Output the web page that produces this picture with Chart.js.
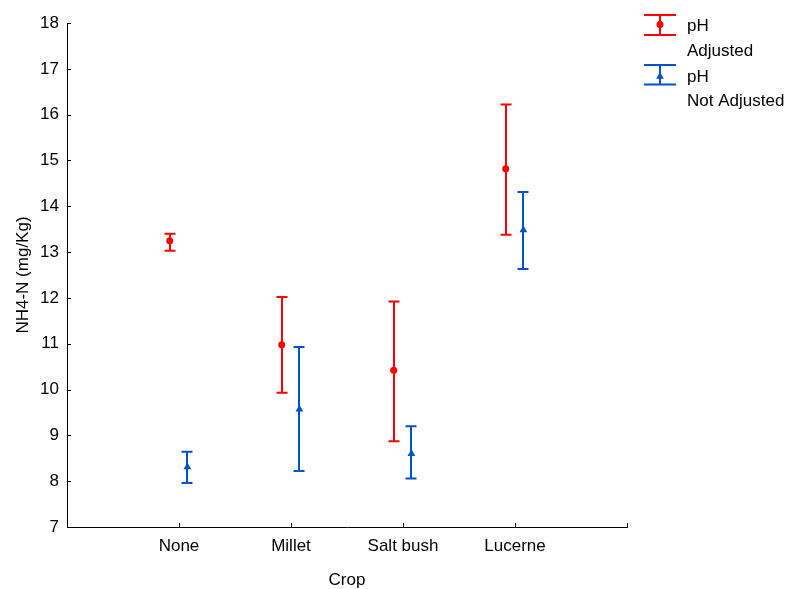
<!DOCTYPE html>
<html>
<head>
<meta charset="utf-8">
<script src="https://cdn.jsdelivr.net/npm/chart.js@4/dist/chart.umd.min.js"></script>
<style>
  html, body { margin: 0; padding: 0; background: #fff; }
  #wrap { width: 796px; height: 589px; }
</style>
</head>
<body>
<div id="wrap"><canvas id="c" width="796" height="589"></canvas></div>
<script>
// ---- data ----
const categories = ['None', 'Millet', 'Salt bush', 'Lucerne'];
const seriesNames = [['pH', 'Adjusted'], ['pH', 'Not Adjusted']];

const adjustedMean = [13.25, 10.98, 10.42, 14.82];
const adjustedLow  = [13.03,  9.93,  8.87, 13.38];
const adjustedHigh = [13.40, 12.02, 11.92, 16.22];

const notAdjustedMean = [8.31,  9.57, 8.60, 13.48];
const notAdjustedLow  = [7.96,  8.22, 8.06, 12.63];
const notAdjustedHigh = [8.64, 10.93, 9.20, 14.31];

const yTicks = [7, 8, 9, 10, 11, 12, 13, 14, 15, 16, 17, 18];

// ---- styling ----
const RED = '#ff0000';
const BLUE = '#0052c8';
const FONT = "'Liberation Sans', Arial, sans-serif";
const FS = 17;
const OFF_RED = -0.083, OFF_BLUE = 0.075;

function build(mean, low, high, off) {
  return categories.map((c, i) => ({ x: i + 1 + off, y: mean[i], lo: low[i], hi: high[i] }));
}

const errorBars = {
  id: 'errorBars',
  beforeDatasetsDraw(chart) {
    const ctx = chart.ctx, xs = chart.scales.x, ys = chart.scales.y;
    chart.data.datasets.forEach(ds => {
      ctx.save();
      ctx.strokeStyle = ds.backgroundColor;
      ctx.lineWidth = 2;
      ds.data.forEach(p => {
        const x = Math.round(xs.getPixelForValue(p.x));
        const y1 = ys.getPixelForValue(p.hi), y2 = ys.getPixelForValue(p.lo);
        ctx.beginPath();
        ctx.moveTo(x, y1); ctx.lineTo(x, y2);
        ctx.moveTo(x - 5.5, y1); ctx.lineTo(x + 5.5, y1);
        ctx.moveTo(x - 5.5, y2); ctx.lineTo(x + 5.5, y2);
        ctx.stroke();
      });
      ctx.restore();
    });
  }
};

const axisTicks = {
  id: 'axisTicks',
  afterDraw(chart) {
    const ctx = chart.ctx, xs = chart.scales.x, ys = chart.scales.y, a = chart.chartArea;
    ctx.save();
    ctx.strokeStyle = '#000';
    ctx.lineWidth = 1;
    ctx.beginPath();
    yTicks.forEach(v => {
      const y = Math.round(ys.getPixelForValue(v)) + 0.5;
      ctx.moveTo(a.left, y); ctx.lineTo(a.left + 4, y);
    });
    for (let v = 1; v <= categories.length + 1; v++) {
      const x = Math.round(xs.getPixelForValue(v)) + 0.5;
      ctx.moveTo(x, a.bottom); ctx.lineTo(x, a.bottom - 4);
    }
    ctx.stroke();
    ctx.restore();
  }
};

const customLegend = {
  id: 'customLegend',
  afterDraw(chart) {
    const ctx = chart.ctx;
    const items = [
      { color: RED, top: 15, bottom: 35, mark: 24.5, shape: 'circle', base: [31, 56] },
      { color: BLUE, top: 65, bottom: 84.5, mark: 76.5, shape: 'triangle', base: [81.5, 106] }
    ];
    items.forEach((it, k) => {
      ctx.save();
      ctx.strokeStyle = it.color; ctx.fillStyle = it.color; ctx.lineWidth = 2;
      const cx = 660;
      ctx.beginPath();
      ctx.moveTo(cx, it.top); ctx.lineTo(cx, it.bottom);
      ctx.moveTo(644, it.top); ctx.lineTo(676, it.top);
      ctx.moveTo(644, it.bottom); ctx.lineTo(676, it.bottom);
      ctx.stroke();
      ctx.beginPath();
      if (it.shape === 'circle') {
        ctx.arc(cx, it.mark, 3.5, 0, Math.PI * 2);
      } else {
        const r = 4.5;
        ctx.moveTo(cx, it.mark - r);
        ctx.lineTo(cx + r * 0.866, it.mark + r * 0.5);
        ctx.lineTo(cx - r * 0.866, it.mark + r * 0.5);
        ctx.closePath();
      }
      ctx.fill();
      ctx.fillStyle = '#000';
      ctx.font = FS + 'px ' + FONT;
      ctx.textBaseline = 'alphabetic';
      ctx.textAlign = 'left';
      seriesNames[k].forEach((t, j) => ctx.fillText(t, 687, it.base[j]));
      ctx.restore();
    });
  }
};

new Chart(document.getElementById('c'), {
  type: 'scatter',
  data: {
    datasets: [
      {
        label: seriesNames[0].join(' '),
        data: build(adjustedMean, adjustedLow, adjustedHigh, OFF_RED),
        backgroundColor: RED, borderColor: RED, borderWidth: 0,
        pointStyle: 'circle', pointRadius: 3.5, pointHoverRadius: 3.5
      },
      {
        label: seriesNames[1].join(' '),
        data: build(notAdjustedMean, notAdjustedLow, notAdjustedHigh, OFF_BLUE),
        backgroundColor: BLUE, borderColor: BLUE, borderWidth: 0,
        pointStyle: 'triangle', pointRadius: 4.5, pointHoverRadius: 4.5
      }
    ]
  },
  options: {
    responsive: false,
    animation: false,
    events: [],
    layout: { padding: { top: 23, right: 169, left: 0, bottom: 0 } },
    plugins: { legend: { display: false }, tooltip: { enabled: false } },
    scales: {
      x: {
        type: 'linear', min: 0, max: categories.length + 1,
        afterFit(s) { s.height = 62; },
        afterBuildTicks(s) { s.ticks = []; for (let v = 0; v <= categories.length + 1; v++) s.ticks.push({ value: v }); },
        ticks: {
          autoSkip: false, maxRotation: 0, padding: 9, color: '#000',
          font: { family: FONT, size: FS },
          callback: v => categories[v - 1] || ''
        },
        grid: { display: false, drawTicks: false },
        border: { display: true, color: '#000', width: 1 },
        title: { display: true, text: 'Crop', color: '#000', font: { family: FONT, size: FS }, padding: { top: 0, bottom: -2 } }
      },
      y: {
        type: 'linear', min: 7, max: 18,
        afterFit(s) { s.width = 67; },
        afterBuildTicks(s) { s.ticks = yTicks.map(v => ({ value: v })); },
        ticks: { padding: 8, color: '#000', font: { family: FONT, size: FS } },
        grid: { display: false, drawTicks: false },
        border: { display: true, color: '#000', width: 1 },
        title: { display: true, text: 'NH4-N (mg/Kg)', color: '#000', font: { family: FONT, size: FS }, padding: { top: 13, bottom: 0 } }
      }
    }
  },
  plugins: [errorBars, axisTicks, customLegend]
});
</script>
</body>
</html>
